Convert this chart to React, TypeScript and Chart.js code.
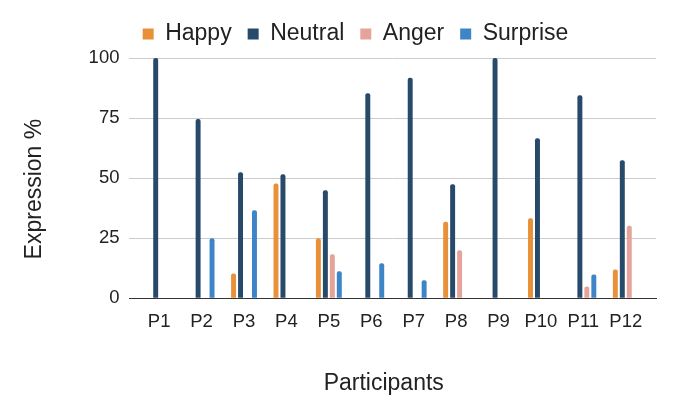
import React, { useEffect, useRef } from 'react';
import { Chart, registerables } from 'chart.js';

Chart.register(...registerables);

const participants = ['P1', 'P2', 'P3', 'P4', 'P5', 'P6', 'P7', 'P8', 'P9', 'P10', 'P11', 'P12'];
const happy = [0, 0, 10.3, 47.8, 25, 0, 0, 31.8, 0, 33.3, 0, 12];
const neutral = [100, 74.6, 52.4, 51.6, 44.9, 85.3, 91.8, 47.4, 100, 66.6, 84.5, 57.4];
const anger = [0, 0, 0, 0, 18.3, 0, 0, 20, 0, 0, 4.9, 30.2];
const surprise = [0, 25, 36.6, 0, 11.2, 14.5, 7.5, 0, 0, 0, 9.9, 0];
const yTicks = [0, 25, 50, 75, 100];

const xTitle = 'Participants';
const yTitle = 'Expression %';

const FONT = "'Liberation Sans', Arial, sans-serif";
const TEXT = '#222222';

// legend in the reference is not centred on the canvas: move it right and a bit up.
// the categories also start a few px inside the gridlines, so inset the x scale.
const layoutTweaks = {
    id: 'layoutTweaks',
    afterLayout(chart: Chart) {
        const lg: any = chart.legend;
        if (lg) {
            const dx = 355.5 - (lg.left + lg.right) / 2;
            lg.left += dx;
            lg.right += dx;
            lg.top -= 2.5;
            lg.bottom -= 2.5;
        }
        const x: any = chart.scales.x;
        x._startPixel = x.left + 8.5;
        x._endPixel = x.right - 9;
        x._length = x._endPixel - x._startPixel;
    },
};

// axis titles sit off-centre in the reference, so they are drawn here
const axisTitles = {
    id: 'axisTitles',
    afterDraw(chart: Chart) {
        const { ctx, chartArea } = chart;
        const cx = (chartArea.left + chartArea.right) / 2;
        const cy = (chartArea.top + chartArea.bottom) / 2;
        ctx.save();
        ctx.fillStyle = TEXT;
        ctx.font = `23px ${FONT}`;
        ctx.textAlign = 'center';
        ctx.textBaseline = 'middle';
        ctx.fillText(xTitle, cx - 9, chartArea.bottom + 85);
        ctx.translate(35, cy + 11);
        ctx.rotate(-Math.PI / 2);
        ctx.fillText(yTitle, 0, 0);
        ctx.restore();
    },
};

const App: React.FC = () => {
    const canvas = useRef<HTMLCanvasElement>(null);

    useEffect(() => {
        const ctx = canvas.current;
        if (!ctx) return;

        const bar = (label: string, data: number[], color: string) => ({
            label,
            data,
            backgroundColor: color,
            borderRadius: 2,
            borderSkipped: 'start' as const,
            categoryPercentage: 0.657,
            barPercentage: 0.71,
        });

        const chart = new Chart(ctx, {
            type: 'bar',
            data: {
                labels: participants,
                datasets: [
                    bar('Happy', happy, '#e8913a'),
                    bar('Neutral', neutral, '#284a6a'),
                    bar('Anger', anger, '#e6a399'),
                    bar('Surprise', surprise, '#3d85c6'),
                ],
            },
            plugins: [layoutTweaks, axisTitles],
            options: {
                animation: false,
                responsive: false,
                layout: {
                    padding: { top: 9, left: 78.6, right: 20, bottom: 70.6 },
                },
                scales: {
                    x: {
                        grid: { display: false, drawTicks: false },
                        border: { display: true, color: '#333333', width: 1 },
                        ticks: {
                            color: TEXT,
                            font: { family: FONT, size: 18.5 },
                            padding: 13,
                            maxRotation: 0,
                        },
                    },
                    y: {
                        min: 0,
                        max: 100,
                        afterBuildTicks: (scale) => {
                            scale.ticks = yTicks.map((v) => ({ value: v }));
                        },
                        grid: {
                            color: (c) => (c.tick && c.tick.value === 0 ? '#333333' : '#cccccc'),
                            drawTicks: false,
                        },
                        border: { display: false },
                        ticks: {
                            color: TEXT,
                            font: { family: FONT, size: 18.5 },
                            padding: 10,
                        },
                    },
                },
                plugins: {
                    legend: {
                        position: 'top',
                        labels: {
                            color: TEXT,
                            font: { family: FONT, size: 23 },
                            boxWidth: 11,
                            boxHeight: 11,
                            padding: 16,
                        },
                    },
                    tooltip: { enabled: false },
                },
            },
        });
        return () => chart.destroy();
    }, []);

    return (
        <div style={{ position: 'absolute', left: 0, top: 0, width: 676, height: 417, background: '#fff' }}>
            <canvas ref={canvas} width={676} height={417} style={{ display: 'block' }}></canvas>
        </div>
    );
};

export default App;
